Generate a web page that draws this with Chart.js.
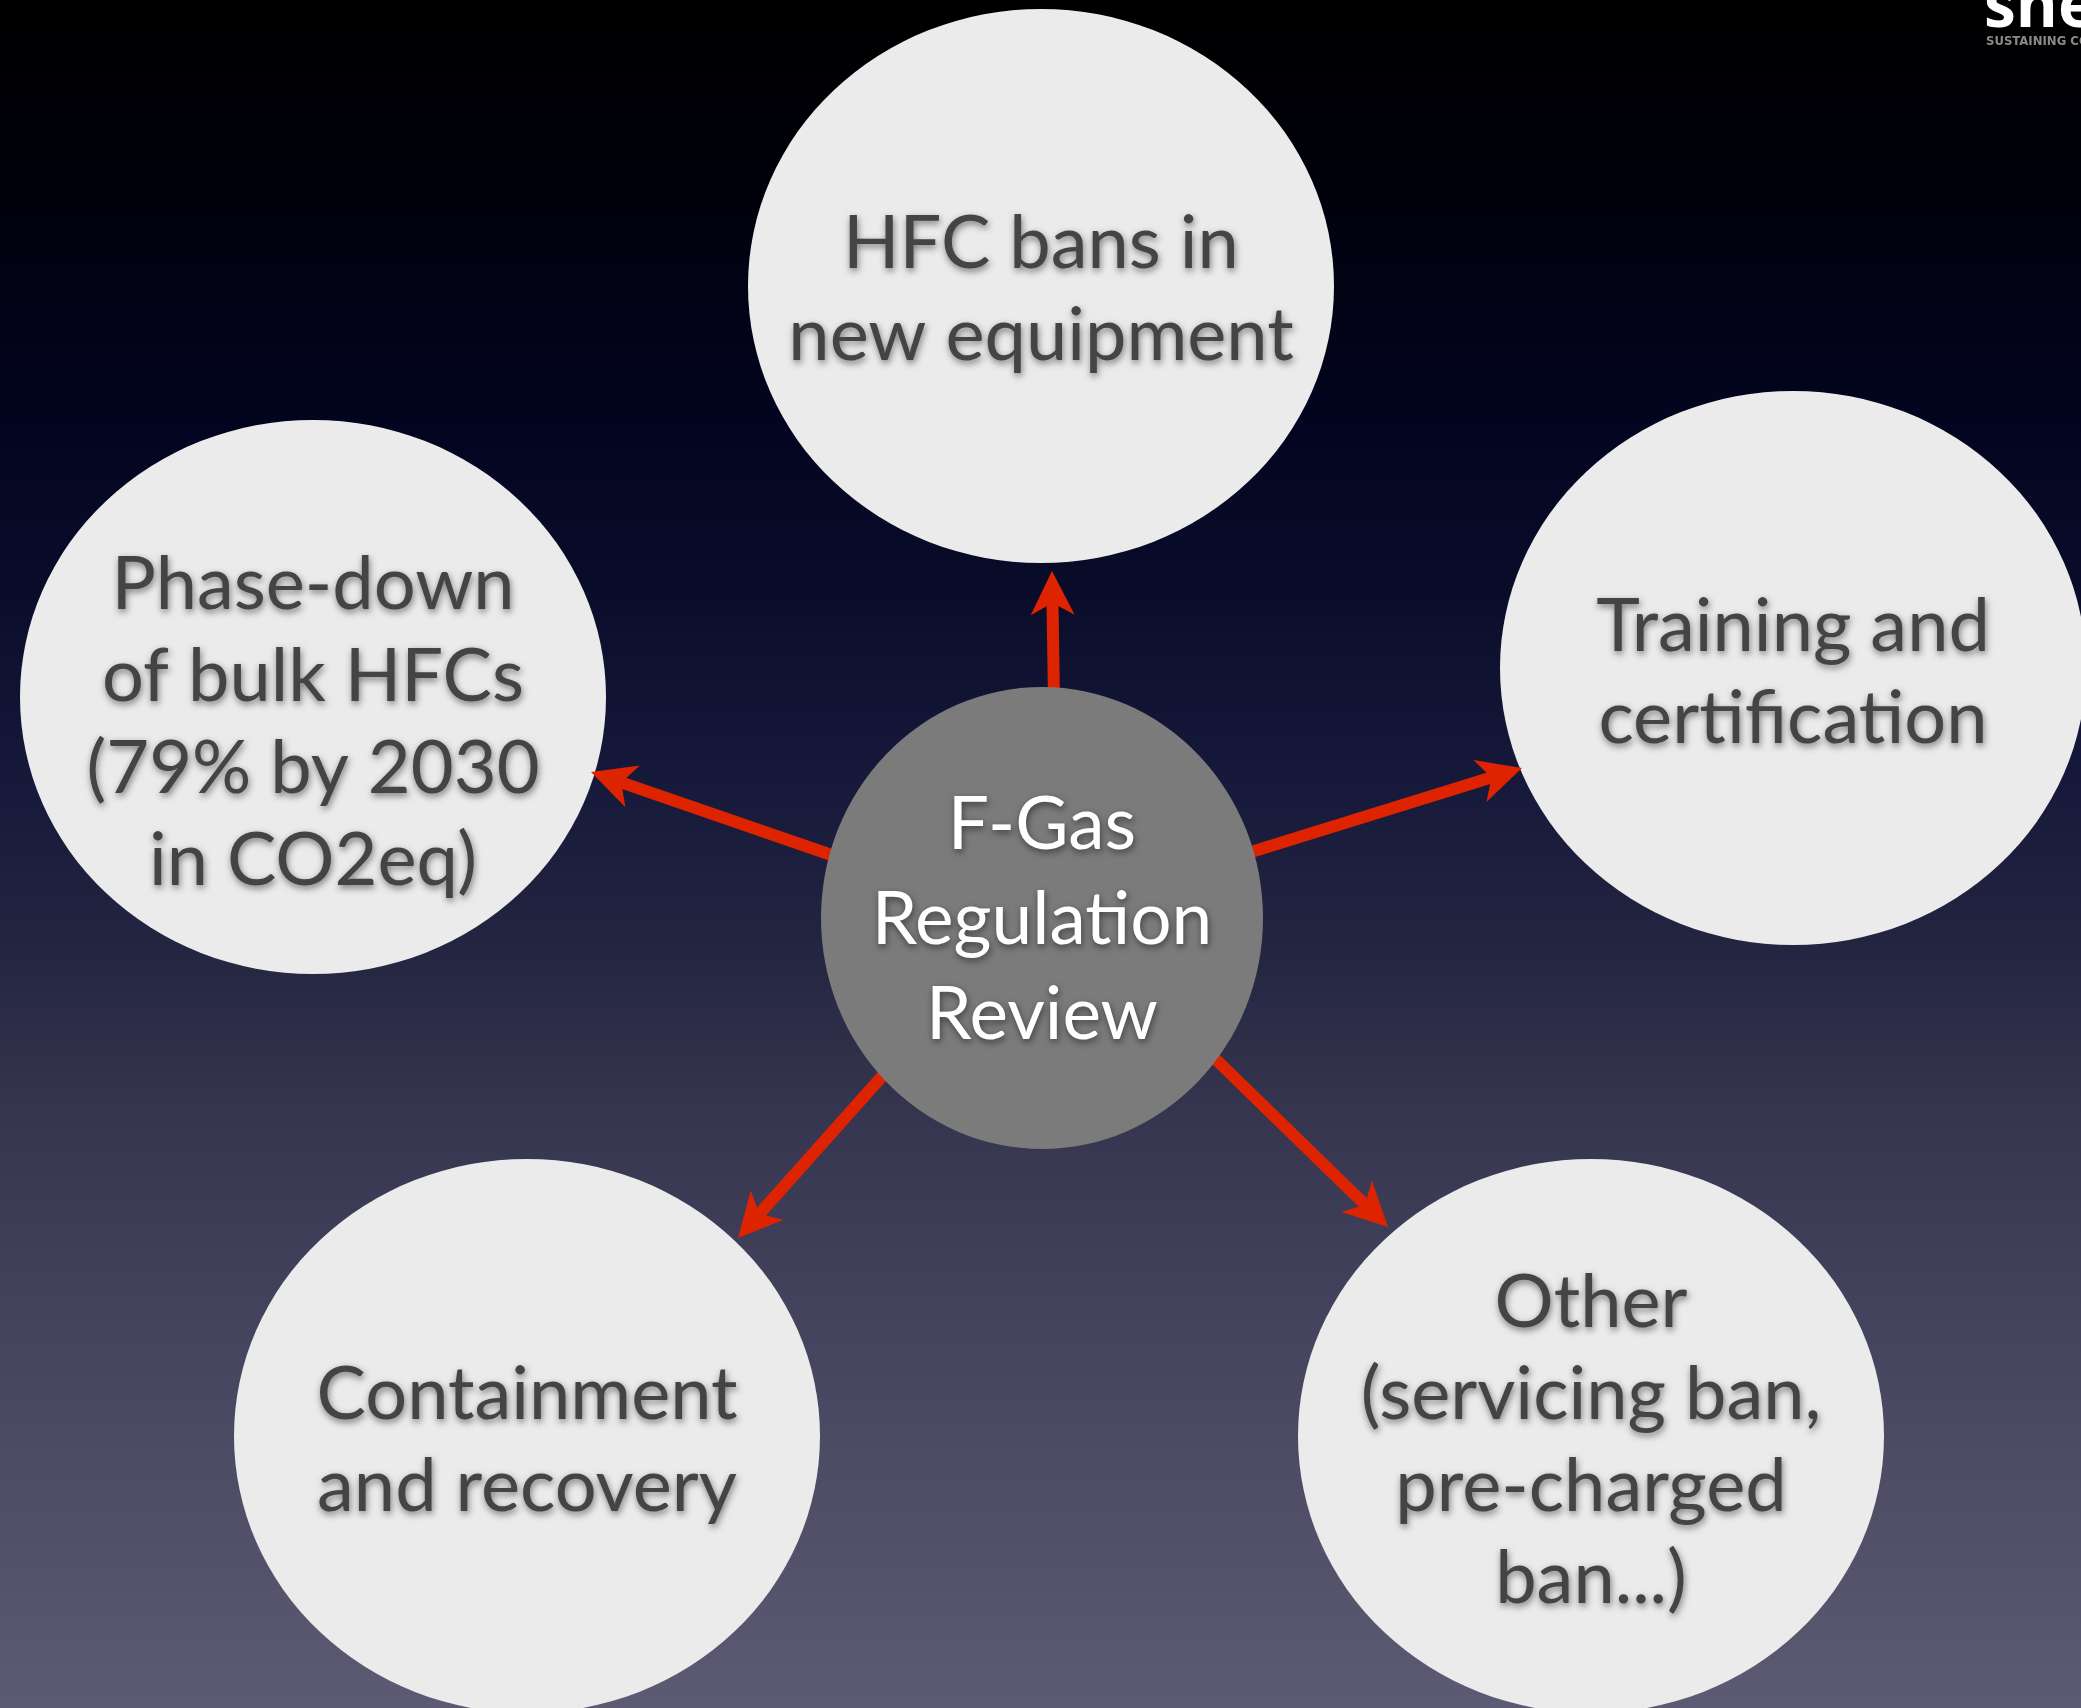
<!DOCTYPE html>
<html lang="en">
<head>
    <meta charset="UTF-8">
    <title>F-Gas Regulation Review</title>
    <script src="https://cdn.jsdelivr.net/npm/chart.js"></script>
    <style>
        html, body {
            margin: 0;
            padding: 0;
            background: #000;
            overflow: hidden;
        }

        #chart-container {
            width: 2081px;
            height: 1708px;
        }
    </style>
</head>
<body>
    <div id="chart-container">
        <canvas id="diagram" width="2081" height="1708"></canvas>
    </div>

    <script>
        // slide space: x 0..2081 to the right, y 0..1708 downwards
        const nodeLabels = [
            ['F-Gas', 'Regulation', 'Review'],
            ['HFC bans in', 'new equipment'],
            ['Training and', 'certification'],
            ['Other', '(servicing ban,', 'pre-charged', 'ban...)'],
            ['Containment', 'and recovery'],
            ['Phase-down', 'of bulk HFCs', '(79% by 2030', 'in CO2eq)']
        ];
        const nodeX = [1042, 1041, 1793, 1591, 527, 313];
        const nodeY = [918, 286, 668, 1436, 1436, 697];
        const nodeRadiusX = [221, 293, 293, 293, 293, 293];
        const nodeRadiusY = [231, 277, 277, 277, 277, 277];
        const labelY = [944, 314, 697, 1465, 1465, 747];

        // arrows from the hub to each topic (up, right, down-right, down-left, left)
        const arrowTailX = [1054, 1235, 1200, 894, 846];
        const arrowTailY = [700, 857, 1044, 1063, 860];
        const arrowTipX = [1052, 1522, 1388, 738, 591];
        const arrowTipY = [571, 768, 1227, 1238, 772];

        const RED = '#de2300';
        const HEAD_LEN = 44;
        const HEAD_HALF = 22;
        const HEAD_NOTCH = 32;

        function unit(i) {
            const dx = arrowTipX[i] - arrowTailX[i];
            const dy = arrowTipY[i] - arrowTailY[i];
            const len = Math.hypot(dx, dy);
            return { x: dx / len, y: dy / len };
        }

        const arrowSets = arrowTipX.map((tx, i) => {
            const u = unit(i);
            return {
                type: 'scatter',
                label: 'arrow ' + i,
                data: [
                    { x: arrowTailX[i], y: arrowTailY[i] },
                    { x: tx - u.x * (HEAD_NOTCH - 4), y: arrowTipY[i] - u.y * (HEAD_NOTCH - 4) }
                ],
                showLine: true,
                borderColor: RED,
                borderWidth: 12,
                borderCapStyle: 'butt',
                pointRadius: 0
            };
        });

        function drawNode(chart, i, fill, textColor, size, gap) {
            const ctx = chart.ctx;
            const sx = chart.scales.x, sy = chart.scales.y;
            const pt = chart.getDatasetMeta(0).data[i];
            const rx = sx.getPixelForValue(nodeX[i] + nodeRadiusX[i]) - pt.x;
            const ry = sy.getPixelForValue(nodeY[i] + nodeRadiusY[i]) - pt.y;

            ctx.save();
            ctx.fillStyle = fill;
            ctx.beginPath();
            ctx.ellipse(pt.x, pt.y, Math.abs(rx), Math.abs(ry), 0, 0, Math.PI * 2);
            ctx.fill();

            const lines = nodeLabels[i];
            const mid = sy.getPixelForValue(labelY[i]);
            ctx.font = size + 'px Lato';
            ctx.textAlign = 'center';
            ctx.textBaseline = 'alphabetic';
            ctx.fillStyle = textColor;
            ctx.shadowColor = 'rgba(0,0,0,0.5)';
            ctx.shadowBlur = 7;
            ctx.shadowOffsetX = 1;
            ctx.shadowOffsetY = 3;
            lines.forEach((line, k) => {
                ctx.fillText(line, pt.x, mid + (k - (lines.length - 1) / 2) * gap);
            });
            ctx.restore();
        }

        const slidePlugin = {
            id: 'slide',

            beforeDraw(chart) {
                const ctx = chart.ctx;
                const h = chart.height;
                const g = ctx.createLinearGradient(0, 0, 0, h);
                g.addColorStop(0, '#000000');
                g.addColorStop(0.1, '#00000a');
                g.addColorStop(0.25, '#030520');
                g.addColorStop(0.35, '#0a0d2a');
                g.addColorStop(0.45, '#16183a');
                g.addColorStop(0.55, '#232440');
                g.addColorStop(0.65, '#35354f');
                g.addColorStop(0.78, '#45445e');
                g.addColorStop(0.9, '#525069');
                g.addColorStop(1, '#5d5b74');
                ctx.save();
                ctx.fillStyle = g;
                ctx.fillRect(0, 0, chart.width, h);
                ctx.restore();
            },

            beforeDatasetsDraw(chart) {
                for (let i = 1; i < nodeLabels.length; i++) {
                    drawNode(chart, i, '#ebebeb', '#444444', 74, 92);
                }
            },

            afterDatasetsDraw(chart) {
                const ctx = chart.ctx;
                const sx = chart.scales.x, sy = chart.scales.y;

                // arrow heads
                ctx.save();
                ctx.fillStyle = RED;
                arrowTipX.forEach((tx, i) => {
                    const u = unit(i);
                    const px = sx.getPixelForValue(tx);
                    const py = sy.getPixelForValue(arrowTipY[i]);
                    const nx = -u.y, ny = u.x;
                    ctx.beginPath();
                    ctx.moveTo(px, py);
                    ctx.lineTo(px - u.x * HEAD_LEN + nx * HEAD_HALF, py - u.y * HEAD_LEN + ny * HEAD_HALF);
                    ctx.lineTo(px - u.x * HEAD_NOTCH, py - u.y * HEAD_NOTCH);
                    ctx.lineTo(px - u.x * HEAD_LEN - nx * HEAD_HALF, py - u.y * HEAD_LEN - ny * HEAD_HALF);
                    ctx.closePath();
                    ctx.fill();
                });
                ctx.restore();

                // hub on top of the arrow tails
                drawNode(chart, 0, '#7b7b7b', '#ffffff', 73, 95);

                // logo in the corner
                ctx.save();
                ctx.textAlign = 'left';
                ctx.textBaseline = 'alphabetic';
                ctx.fillStyle = '#ffffff';
                ctx.font = 'bold 64px "Open Sans"';
                ctx.fillText('shecco', 1984, 27);
                ctx.fillStyle = '#8a8a8a';
                ctx.font = 'bold 13px "DejaVu Sans Condensed", "DejaVu Sans"';
                ctx.fillText('SUSTAINING COOLING', 1986, 45);
                ctx.restore();
            }
        };

        new Chart(document.getElementById('diagram'), {
            type: 'scatter',
            data: {
                datasets: [
                    {
                        label: 'topics',
                        data: nodeX.map((x, i) => ({ x: x, y: nodeY[i] })),
                        pointRadius: 0,
                        showLine: false
                    },
                    ...arrowSets
                ]
            },
            options: {
                responsive: false,
                animation: false,
                events: [],
                layout: { padding: 0 },
                plugins: {
                    legend: { display: false },
                    tooltip: { enabled: false },
                    title: { display: false }
                },
                scales: {
                    x: { type: 'linear', min: 0, max: 2081, display: false },
                    y: { type: 'linear', min: 0, max: 1708, reverse: true, display: false }
                }
            },
            plugins: [slidePlugin]
        });
    </script>
</body>
</html>
